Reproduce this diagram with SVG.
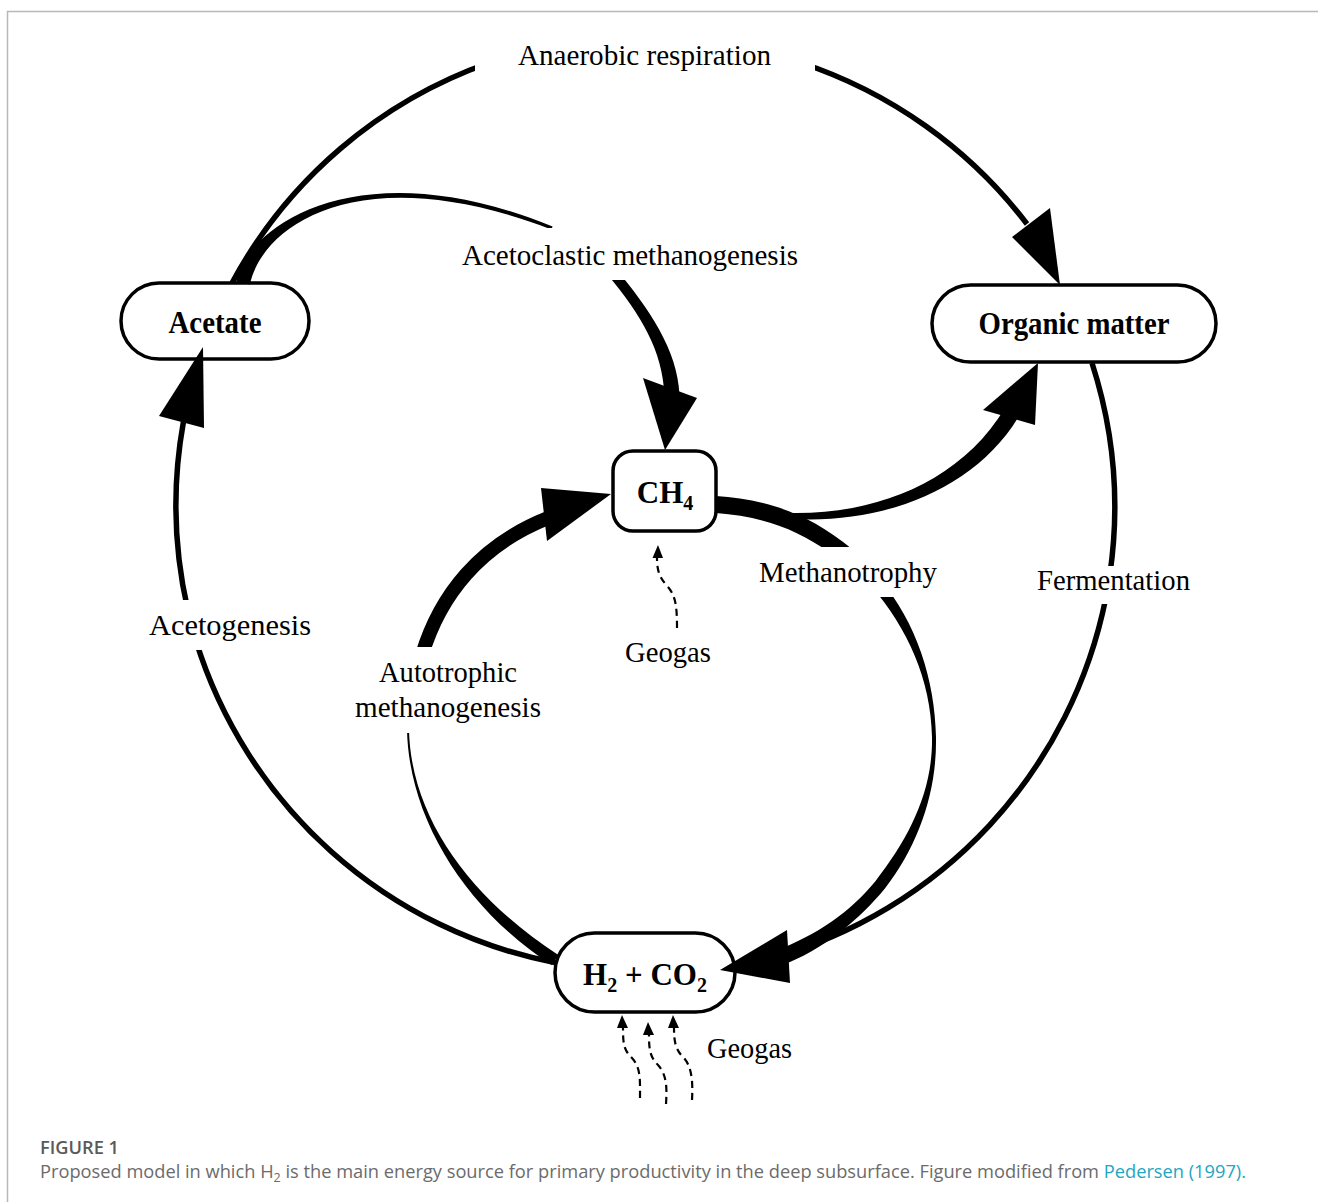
<svg xmlns="http://www.w3.org/2000/svg" width="1318" height="1202" viewBox="0 0 1318 1202">
<style>
.node rect{fill:#fff;stroke:#000;stroke-width:3.5}
.nt{font-family:"Liberation Serif","Times New Roman",serif;font-weight:bold;font-size:31px;fill:#000;text-anchor:middle}
.lbl{font-family:"Liberation Serif","Times New Roman",serif;font-size:29px;fill:#000;text-anchor:middle}
.bg{fill:#fff}
.thin{fill:none;stroke:#000;stroke-width:5.5}
.band{fill:#000}
.head{fill:#000}
.dash{fill:none;stroke:#000;stroke-width:2.2;stroke-dasharray:7 5}
.cap{font-family:"Open Sans","Noto Sans",sans-serif;font-size:17.5px;fill:#6b6b6b}
</style>
<rect width="1318" height="1202" fill="#fff"/>
<path d="M7.5,1202 V11.5 H1318" fill="none" stroke="#b8b8b8" stroke-width="1.5"/>

<g id="node-acetate" class="node"><rect x="121" y="283" width="188" height="76" rx="38"/><text class="nt" x="215" y="333" textLength="93" lengthAdjust="spacingAndGlyphs">Acetate</text></g>
<g id="node-organic-matter" class="node"><rect x="932" y="285" width="284" height="77" rx="38.5"/><text class="nt" x="1074" y="334" textLength="191" lengthAdjust="spacingAndGlyphs">Organic matter</text></g>
<g id="node-ch4" class="node"><rect x="613" y="451" width="103" height="80" rx="20"/><text class="nt" x="665" y="503">CH<tspan font-size="20" dy="7">4</tspan></text></g>
<g id="node-h2co2" class="node"><rect x="555" y="933" width="180" height="79" rx="39.5"/><text class="nt" x="645" y="985">H<tspan font-size="20" dy="7">2</tspan><tspan dy="-7"> + CO</tspan><tspan font-size="20" dy="7">2</tspan></text></g>

<g id="connectors">
<!-- Anaerobic respiration -->
<path class="thin" d="M232,283 A469.5,469.5 0 0 1 490,62.5"/>
<path class="thin" d="M800,62.5 A469.5,469.5 0 0 1 1027,224"/>
<polygon class="head" points="1060,285 1012,237 1050,208"/>
<!-- Acetogenesis -->
<path class="thin" d="M557,963 A469.5,469.5 0 0 1 195.7,640"/>
<path class="thin" d="M187.8,610 A469.5,469.5 0 0 1 183.4,422"/>
<polygon class="head" points="203,347 159,416 204,428"/>
<!-- Fermentation -->
<path class="thin" d="M1092,363 A469.5,469.5 0 0 1 1109.8,575"/>
<path class="thin" d="M1105.8,598 A469.5,469.5 0 0 1 772,958"/>
<!-- Acetoclastic methanogenesis -->
<path class="band" d="M236.1,281.6 C248.1,223.6 361.5,148.3 552.6,226.6 L551.4,229.4 C358.5,155.7 261.9,226.4 249.9,284.4 Z"/>
<path class="band" d="M615.9,268.8 C648.9,308.8 677.5,349.7 679.5,394.7 L664.5,395.3 C662.5,350.3 641.1,315.2 608.1,275.2 Z"/>
<polygon class="head" points="643,378 697,398 665,450"/>
<!-- Autotrophic methanogenesis -->
<path class="band" d="M407,730 C409,820 466.7,910 551.7,965 L558.3,955 C473.3,900 411,820 409,730 Z"/>
<path d="M422,655 C440,595 480,545 548,518" fill="none" stroke="#000" stroke-width="14"/>
<polygon class="head" points="611,494 541,488 547,541"/>
<!-- Methanotrophy -->
<path class="band" d="M716,496 C760,499 805,510 852,549 L830,553 C795,527 757,516 716,513 Z"/>
<path class="band" d="M793,519 C882,524 975,490 1019,416 L1005,408 C961,481 878,514 793,513 Z"/>
<polygon class="head" points="983,410 1035,425 1038,363"/>
<path class="band" d="M879.2,578.4 C916.2,621.4 935,680 936,737 C937,790 919.7,843.7 884.7,888.7 C859.6,918.8 824.8,949.5 778.8,966.5 L773.2,951.5 C819.2,934.5 850.4,911.2 875.4,881.2 C910.3,836.3 933,790 932,737 C931,680 907.8,628.6 870.8,585.6 Z"/>
<polygon class="head" points="720,970 787,930 790,983"/>
<!-- Geogas to CH4 -->
<path class="dash" d="M677,628 C677,608 676,596 668,587 C660,578 657,572 657,558"/>
<polygon class="head" points="658,545 652.5,558 663,558"/>
<!-- Geogas to H2 + CO2 -->
<path class="dash" d="M640,1098 C640,1080 641,1068 632,1058 C624,1050 623,1045 623,1028"/>
<polygon class="head" points="622,1015 617,1028 628,1028"/>
<path class="dash" d="M666,1104 C667,1088 667,1075 658,1065 C650,1057 649,1050 649,1035"/>
<polygon class="head" points="648,1022 643,1035 654,1035"/>
<path class="dash" d="M692,1100 C693,1082 692,1066 683,1057 C676,1050 674,1043 674,1028"/>
<polygon class="head" points="673,1015 668,1028 679,1028"/>
</g>

<g id="labels">
<rect class="bg" x="475" y="30" width="340" height="55"/>
<text class="lbl" x="644.5" y="65" textLength="253" lengthAdjust="spacingAndGlyphs">Anaerobic respiration</text>
<rect class="bg" x="455" y="228" width="350" height="52"/>
<text class="lbl" x="630" y="265" textLength="336" lengthAdjust="spacingAndGlyphs">Acetoclastic methanogenesis</text>
<rect class="bg" x="752" y="547" width="193" height="50"/>
<text class="lbl" x="848" y="582" textLength="178" lengthAdjust="spacingAndGlyphs">Methanotrophy</text>
<rect class="bg" x="1030" y="566" width="167" height="38"/>
<text class="lbl" x="1113.5" y="590" textLength="153" lengthAdjust="spacingAndGlyphs">Fermentation</text>
<rect class="bg" x="140" y="600" width="180" height="50"/>
<text class="lbl" x="230" y="635" textLength="162" lengthAdjust="spacingAndGlyphs">Acetogenesis</text>
<rect class="bg" x="350" y="647" width="196" height="86"/>
<text class="lbl" x="448" y="682" textLength="138" lengthAdjust="spacingAndGlyphs">Autotrophic</text>
<text class="lbl" x="448" y="717" textLength="186" lengthAdjust="spacingAndGlyphs">methanogenesis</text>
<text class="lbl" x="668" y="662" textLength="86" lengthAdjust="spacingAndGlyphs">Geogas</text>
<text class="lbl" x="749.5" y="1058" textLength="85" lengthAdjust="spacingAndGlyphs">Geogas</text>
</g>

<g id="caption">
<text class="cap" x="40" y="1154" style="fill:#5a5a5a;font-weight:600" textLength="79" lengthAdjust="spacingAndGlyphs">FIGURE 1</text>
<text class="cap" x="40" y="1178" textLength="1206" lengthAdjust="spacingAndGlyphs">Proposed model in which H<tspan font-size="12" dy="4">2</tspan><tspan dy="-4"> is the main energy source for primary productivity in the deep subsurface. Figure modified from </tspan><tspan style="fill:#22a6c2">Pedersen (1997).</tspan></text>
</g>
</svg>
